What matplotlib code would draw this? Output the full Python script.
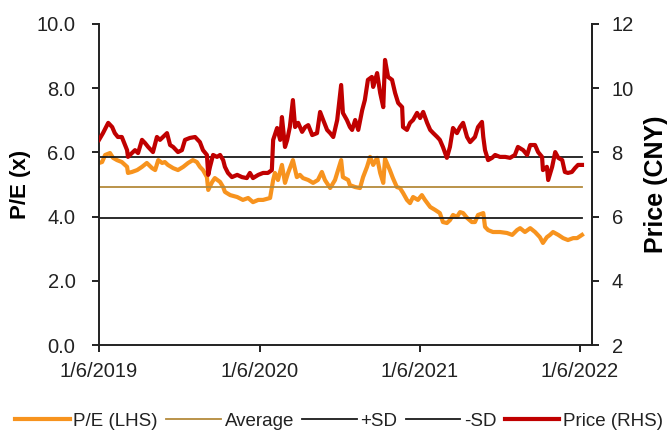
import matplotlib.pyplot as plt
import numpy as np
import pandas as pd

plt.rcParams["font.family"] = ["Liberation Sans", "DejaVu Sans"]

start = pd.Timestamp("2019-06-01")

# P/E history (days after start, multiple)
pe_days = [0, 7, 14, 25, 32, 41, 52, 64, 66, 75, 87, 98, 109, 121, 128, 135,
           144, 150, 157, 169, 180, 192, 203, 214, 223, 230, 237, 246, 249,
           258, 264, 276, 283, 287, 299, 315, 328, 340, 351, 363, 374, 390,
           397, 401, 408, 417, 424, 431, 442, 451, 458, 465, 477, 488, 499,
           508, 515, 527, 538, 552, 556, 568, 572, 584, 595, 602, 611, 618,
           625, 634, 641, 648, 652, 663, 670, 679, 686, 693, 702, 709, 716,
           727, 736, 743, 755, 766, 777, 784, 793, 800, 807, 816, 823, 830,
           839, 850, 857, 864, 876, 880, 887, 898, 914, 930, 942, 953, 960,
           971, 983, 994, 1005, 1012, 1021, 1028, 1035, 1047, 1058, 1069,
           1081, 1090, 1101]
pe = [5.67, 5.70, 5.92, 5.98, 5.83, 5.76, 5.70, 5.55, 5.36, 5.39, 5.45, 5.55,
      5.67, 5.51, 5.45, 5.76, 5.67, 5.70, 5.61, 5.51, 5.45, 5.55, 5.67, 5.76,
      5.70, 5.55, 5.45, 5.23, 4.83, 5.08, 5.20, 5.08, 4.92, 4.77, 4.67, 4.61,
      4.52, 4.58, 4.45, 4.52, 4.52, 4.58, 5.14, 5.36, 5.14, 5.61, 5.05, 5.36,
      5.76, 5.23, 5.30, 5.20, 5.14, 5.05, 5.14, 5.39, 5.14, 4.89, 5.14, 5.76,
      5.23, 5.14, 4.98, 4.92, 4.89, 5.23, 5.55, 5.86, 5.61, 5.83, 5.36, 5.05,
      5.80, 5.45, 5.20, 4.92, 4.89, 4.74, 4.52, 4.42, 4.61, 4.52, 4.67, 4.52,
      4.30, 4.21, 4.11, 3.83, 3.80, 3.89, 4.05, 3.99, 4.14, 4.11, 3.96, 3.83,
      3.83, 4.05, 4.11, 3.68, 3.58, 3.52, 3.52, 3.49, 3.43, 3.58, 3.64, 3.52,
      3.64, 3.52, 3.36, 3.18, 3.36, 3.43, 3.52, 3.43, 3.33, 3.27, 3.33, 3.33,
      3.43]

# share price (days after start, CNY)
px_days = [0, 9, 21, 30, 36, 43, 52, 64, 66, 75, 82, 89, 98, 105, 112, 123,
           132, 139, 146, 155, 162, 169, 180, 189, 196, 207, 219, 230, 237,
           246, 249, 253, 260, 269, 276, 283, 287, 294, 303, 315, 326, 337,
           344, 351, 363, 374, 385, 394, 397, 406, 413, 417, 424, 429, 435,
           442, 447, 454, 463, 470, 477, 486, 497, 504, 511, 520, 527, 534,
           543, 552, 556, 565, 572, 577, 584, 591, 600, 606, 613, 622, 625,
           634, 641, 648, 652, 659, 668, 675, 682, 691, 693, 702, 709, 716,
           725, 732, 739, 748, 755, 762, 771, 777, 784, 793, 800, 807, 816,
           823, 830, 839, 846, 857, 864, 873, 876, 880, 887, 896, 903, 914,
           926, 937, 948, 955, 967, 976, 983, 994, 1001, 1010, 1012, 1021,
           1024, 1033, 1040, 1047, 1056, 1062, 1069, 1078, 1085, 1092, 1101]
price = [8.39, 8.60, 8.92, 8.79, 8.60, 8.48, 8.48, 8.07, 7.86, 7.98, 8.07,
         7.98, 8.39, 8.29, 8.17, 8.01, 8.48, 8.39, 8.48, 8.60, 8.23, 8.17,
         8.01, 8.07, 8.39, 8.45, 8.48, 8.32, 8.07, 7.92, 7.30, 7.55, 7.92,
         7.86, 7.92, 7.76, 7.55, 7.36, 7.23, 7.30, 7.23, 7.20, 7.36, 7.20,
         7.30, 7.36, 7.36, 7.45, 8.39, 8.76, 8.39, 9.10, 8.17, 8.39, 8.79,
         9.63, 8.79, 8.92, 8.64, 8.79, 8.85, 8.54, 8.60, 9.26, 9.01, 8.70,
         8.60, 8.48, 9.01, 10.10, 9.23, 9.01, 8.79, 8.70, 9.01, 8.70, 9.32,
         9.63, 10.26, 10.35, 10.04, 10.47, 9.85, 9.41, 10.88, 10.35, 10.26,
         9.85, 9.54, 9.41, 8.79, 8.70, 8.92, 9.01, 9.23, 9.07, 9.26, 8.92,
         8.70, 8.60, 8.48, 8.39, 8.17, 7.83, 8.17, 8.76, 8.60, 8.79, 8.92,
         8.48, 8.32, 8.48, 8.79, 8.95, 8.48, 8.07, 7.76, 7.83, 7.92, 7.86,
         7.86, 7.83, 7.92, 8.17, 8.07, 7.92, 8.23, 8.23, 8.01, 7.86, 7.45,
         7.55, 7.14, 7.55, 8.01, 7.83, 7.76, 7.39, 7.36, 7.39, 7.51, 7.61,
         7.61]

pe_avg = 4.91
pe_sd = 0.95

pe_dates = start + pd.to_timedelta(pe_days, unit="D")
px_dates = start + pd.to_timedelta(px_days, unit="D")
span = [pe_dates[0], pe_dates[-1]]

fig = plt.figure(figsize=(6.69, 4.33), dpi=100)
ax = fig.add_axes([0.148, 0.2032, 0.737, 0.7414])
ax2 = ax.twinx()

l_pe, = ax.plot(pe_dates, pe, color="#F7931E", lw=3.0, label="P/E (LHS)")
l_avg, = ax.plot(span, [pe_avg] * 2, color="#B48A3C", lw=1.3, label="Average")
l_up, = ax.plot(span, [pe_avg + pe_sd] * 2, color="#1a1a1a", lw=1.3, label="+SD")
l_dn, = ax.plot(span, [pe_avg - pe_sd] * 2, color="#1a1a1a", lw=1.3, label="-SD")
l_px, = ax2.plot(px_dates, price, color="#C00000", lw=3.0, label="Price (RHS)")

ax.set_ylim(0, 10)
ax.set_yticks(np.arange(0, 10.1, 2))
ax.yaxis.set_major_formatter(plt.FuncFormatter(lambda v, p: f"{v:.1f}"))
ax2.set_ylim(2, 12)
ax2.set_yticks(np.arange(2, 12.1, 2))

ax.set_xlim(start, pd.Timestamp("2022-06-29"))
xt = pd.to_datetime(["2019-06-01", "2020-06-01", "2021-06-01", "2022-06-01"])
ax.set_xticks(xt)
ax.set_xticklabels([f"{d.day}/{d.month}/{d.year}" for d in xt])

for a in (ax, ax2):
    a.spines["top"].set_visible(False)
    for s in a.spines.values():
        s.set_linewidth(1.4)
        s.set_color("#222222")
    a.tick_params(direction="out", length=5, width=1.4, color="#222222",
                  labelsize=14.5, labelcolor="#222222")
ax2.spines["left"].set_visible(False)
ax2.spines["bottom"].set_visible(False)
ax.tick_params(axis="y", pad=12)
ax.tick_params(axis="x", pad=7)
ax2.tick_params(axis="y", pad=9)

ax.set_ylabel("P/E (x)", fontsize=16, fontweight="bold")
ax.yaxis.set_label_coords(-0.138, 0.5)
ax2.set_ylabel("Price (CNY)", fontsize=18, fontweight="bold")
ax2.yaxis.set_label_coords(1.105, 0.5)

fig.legend(handles=[l_pe, l_avg, l_up, l_dn, l_px], loc="center",
           bbox_to_anchor=(0.507, 0.027), ncol=5, frameon=False,
           fontsize=13.5, handlelength=2.9, handletextpad=0.2,
           columnspacing=0.45, labelcolor="#222222")

fig.savefig("out.png", dpi=100)
